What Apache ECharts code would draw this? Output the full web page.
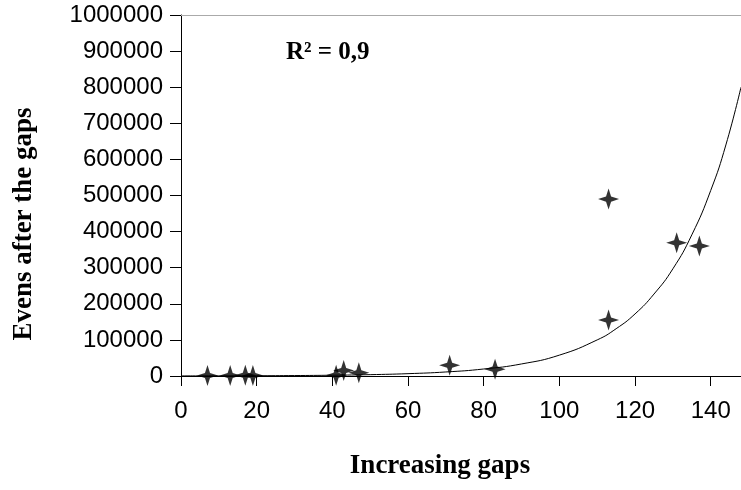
<!DOCTYPE html>
<html>
<head>
<meta charset="utf-8">
<style>html,body{margin:0;padding:0;background:#fff;}#chart{width:741px;height:490px;}</style>
<script src="https://cdn.jsdelivr.net/npm/echarts@6/dist/echarts.min.js"></script>
</head>
<body>
<div id="chart"></div>
<script>
// Data
const gapX = [7, 13, 17, 19, 41, 43, 47, 71, 83, 113, 113, 131, 137];
const evensY = [1500, 1500, 2000, 1500, 2000, 15000, 9000, 30000, 19000, 490000, 155000, 369000, 360000];
// Exponential trend line at several x positions
const trendX = [0, 10, 20, 30, 40, 50, 60, 70, 80, 90, 100, 110, 115, 120, 125, 130, 135, 140, 144, 148];
const trendY = [243, 420, 726, 1254, 2170, 3745, 6470, 11180, 19400, 33400, 57800, 100000, 131000, 172000, 227000, 297000, 391000, 514000, 640000, 800000];
const xTicks = [0, 20, 40, 60, 80, 100, 120, 140];
const yTicks = [0, 100000, 200000, 300000, 400000, 500000, 600000, 700000, 800000, 900000, 1000000];
const xTitle = 'Increasing gaps';
const yTitle = 'Evens after the gaps';
const r2Label = 'R² = 0,9';

const scatterData = gapX.map((x, i) => [x, evensY[i]]);
const trendData = trendX.map((x, i) => [x, trendY[i]]);

const chart = echarts.init(document.getElementById('chart'), null, {renderer: 'canvas'});
const labelFont = {fontFamily: 'Liberation Sans, Arial, sans-serif', fontSize: 24, color: '#000'};
const serifBold = 'Liberation Serif, Times New Roman, serif';

chart.setOption({
  animation: false,
  backgroundColor: '#fff',
  grid: {left: 181, right: 0, top: 15, bottom: 114, containLabel: false},
  xAxis: [{
    type: 'value', min: 0, max: 148, interval: 20,
    axisLine: {show: true, lineStyle: {color: '#000', width: 1}},
    axisTick: {show: true, inside: false, length: 10, lineStyle: {color: '#000'}},
    axisLabel: Object.assign({margin: 23, showMaxLabel: false,
      formatter: v => xTicks.indexOf(v) >= 0 ? String(v) : ''}, labelFont),
    splitLine: {show: false}
  }, {
    type: 'value', position: 'top', min: 0, max: 148,
    axisLine: {show: true, lineStyle: {color: '#aaa', width: 1}},
    axisTick: {show: false}, axisLabel: {show: false}, splitLine: {show: false}
  }],
  yAxis: {
    type: 'value', min: 0, max: 1000000, interval: 100000,
    axisLine: {show: true, lineStyle: {color: '#000', width: 1}},
    axisTick: {show: true, inside: false, length: 11, lineStyle: {color: '#000'}},
    axisLabel: Object.assign({margin: 18,
      formatter: v => yTicks.indexOf(v) >= 0 ? String(v) : ''}, labelFont),
    splitLine: {show: false}
  },
  series: [{
    type: 'line', data: trendData, smooth: true, showSymbol: false, symbol: 'none',
    lineStyle: {color: '#000', width: 1}, z: 2, silent: true
  }, {
    type: 'scatter', data: scatterData,
    symbol: 'path://M0,-10 L2.4,-2.4 L10,0 L2.4,2.4 L0,10 L-2.4,2.4 L-10,0 L-2.4,-2.4 Z',
    symbolSize: 21,
    itemStyle: {color: '#000'}, z: 3
  }],
  graphic: [{
    type: 'text', left: 286, top: 40,
    style: {text: r2Label, font: 'bold 25px ' + serifBold, fill: '#000'}
  }, {
    type: 'text', x: 440, y: 466,
    style: {text: xTitle, font: 'bold 27px ' + serifBold, fill: '#000', align: 'center', verticalAlign: 'middle'}
  }, {
    type: 'text', x: 24, y: 224, rotation: Math.PI / 2,
    style: {text: yTitle, font: 'bold 27px ' + serifBold, fill: '#000', align: 'center', verticalAlign: 'middle'}
  }]
});
</script>
</body>
</html>
